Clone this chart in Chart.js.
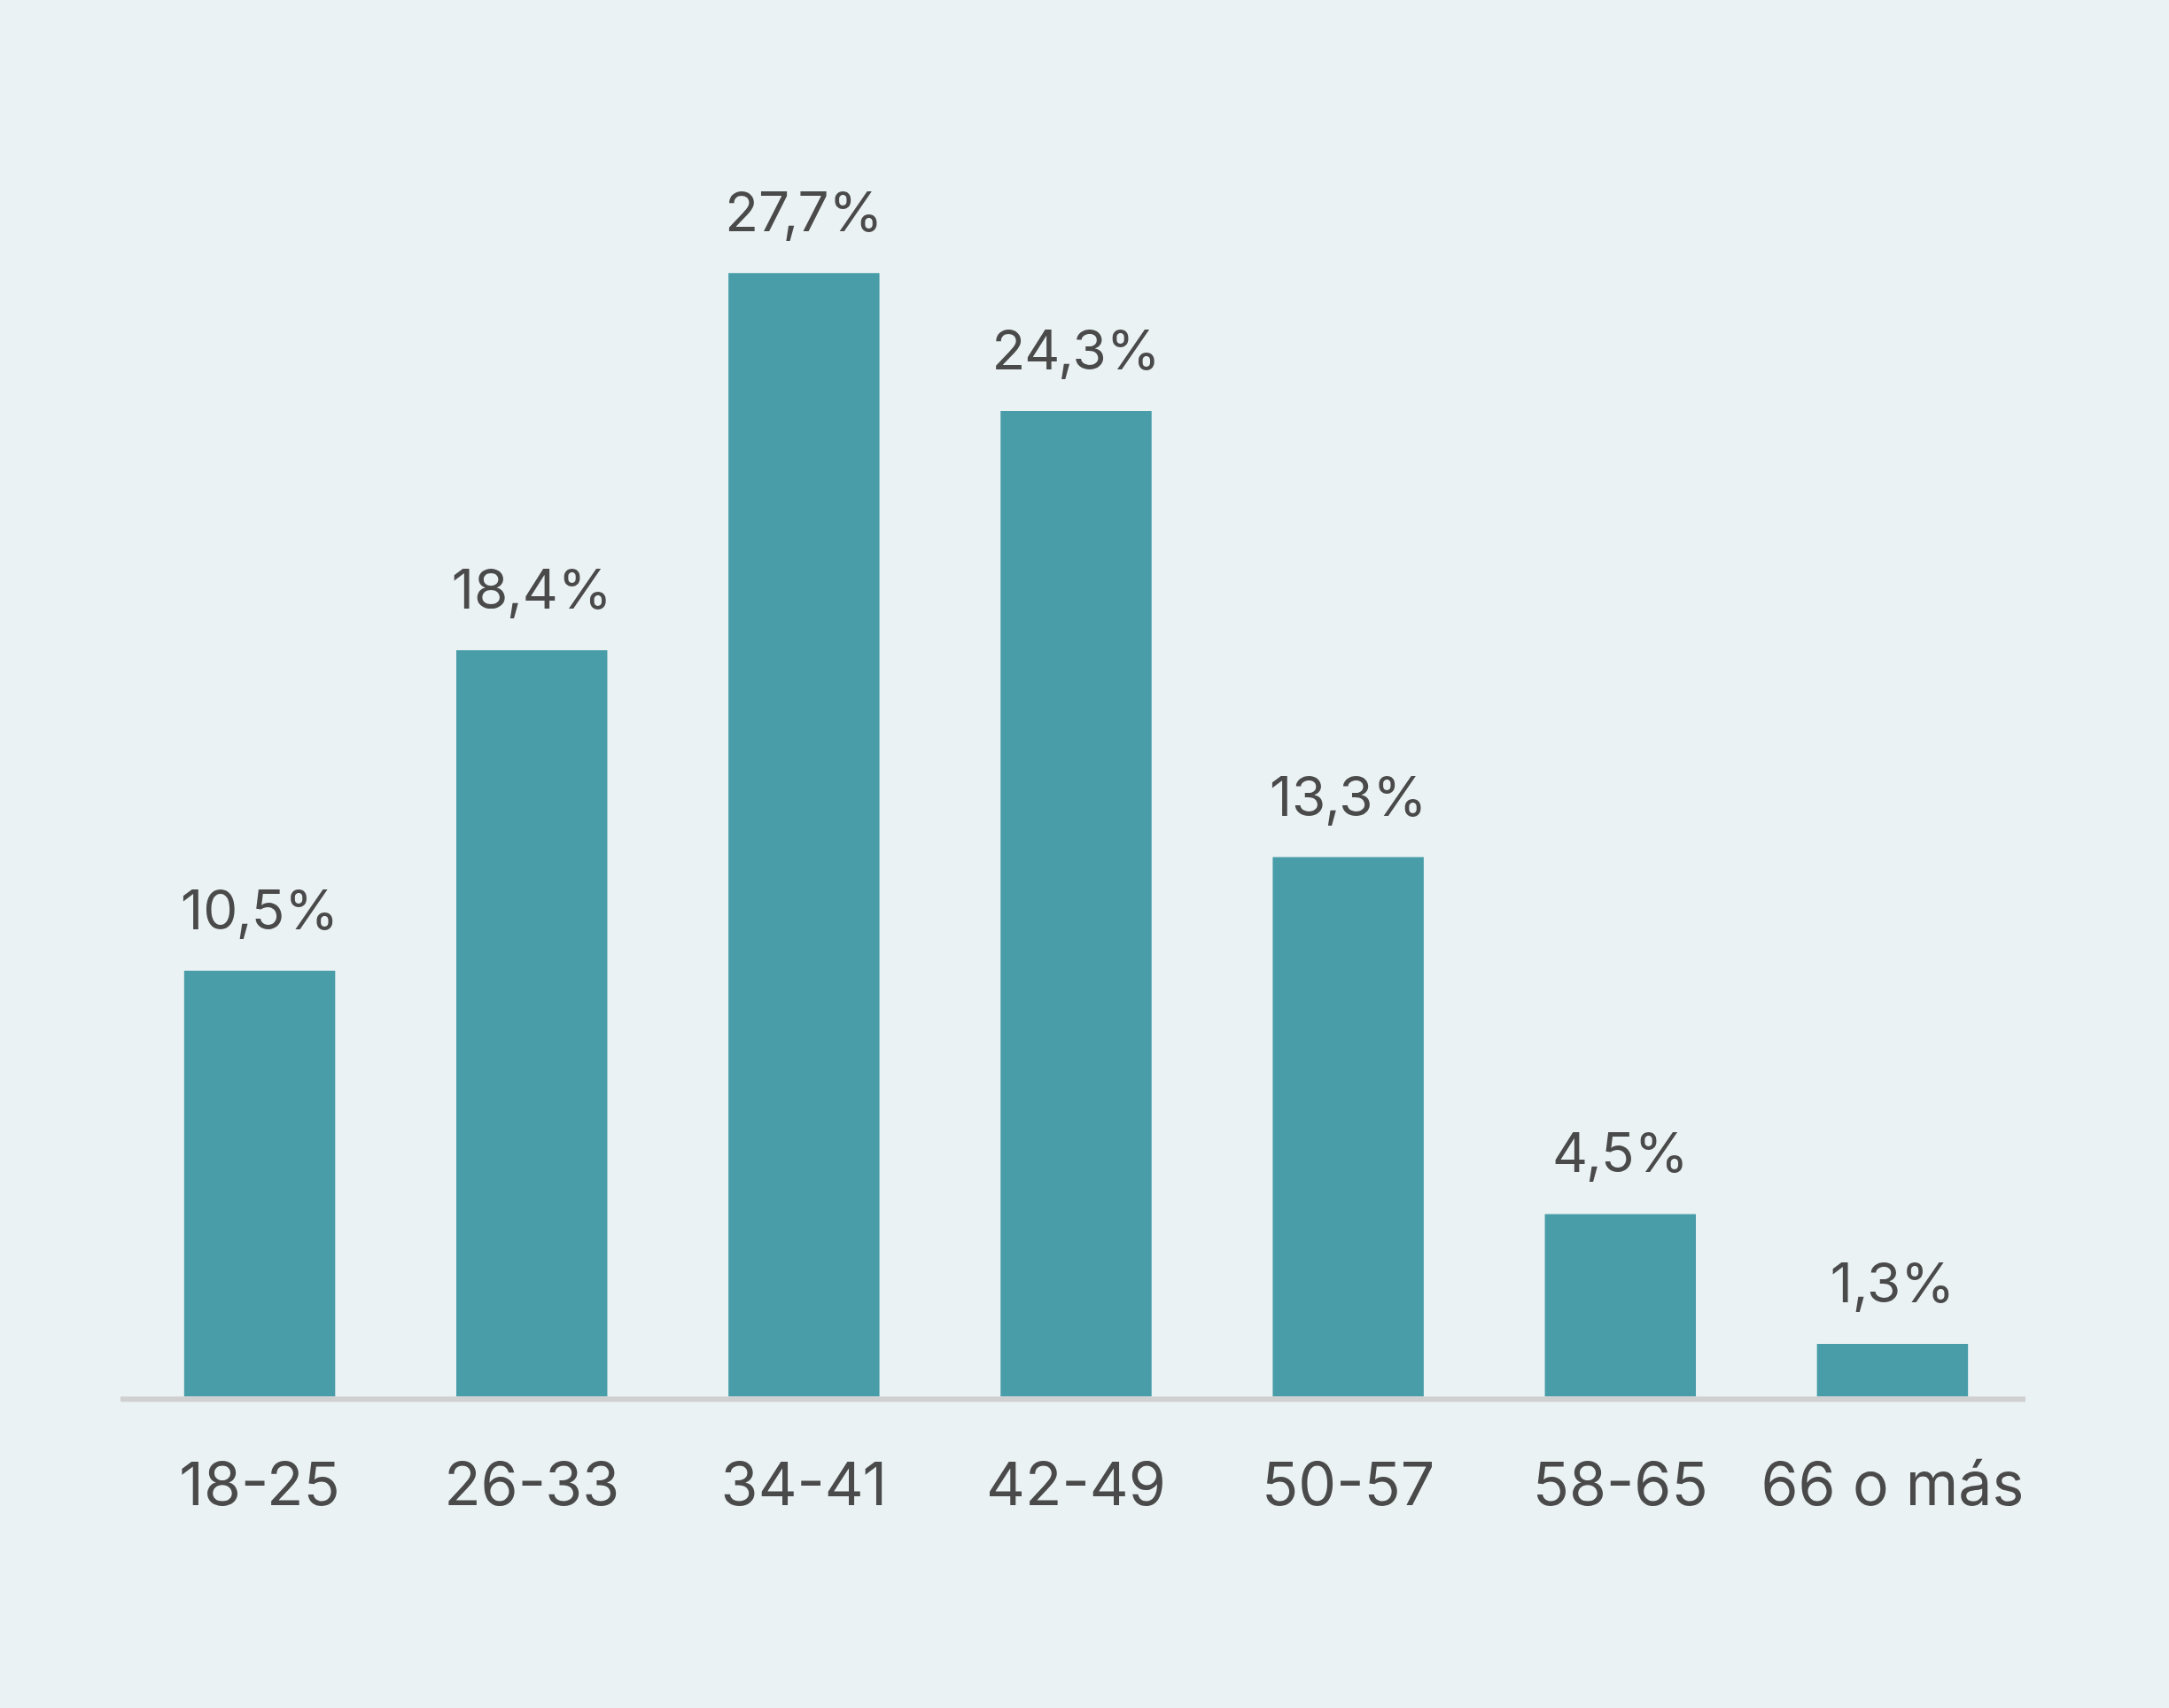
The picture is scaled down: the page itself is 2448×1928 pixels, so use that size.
<!DOCTYPE html>
<html>
<head>
<meta charset="utf-8">
<script src="https://cdn.jsdelivr.net/npm/chart.js@4.4.1/dist/chart.umd.min.js"></script>
<style>
  html, body { margin: 0; padding: 0; background: #eaf2f4; }
  #wrap { width: 2448px; height: 1928px; position: relative; }
  canvas { display: block; }
</style>
</head>
<body>
<div id="wrap"><canvas id="c" width="2448" height="1928"></canvas></div>
<script>
const categories = ["18-25", "26-33", "34-41", "42-49", "50-57", "58-65", "66 o más"];
const values = [10.5, 18.4, 27.7, 24.3, 13.3, 4.5, 1.3];
const valueLabels = ["10,5%", "18,4%", "27,7%", "24,3%", "13,3%", "4,5%", "1,3%"];

const FONT = "Inter, 'Open Sans', sans-serif";
const TEXT = "#4a4a4a";

const valueLabelPlugin = {
  id: 'valueLabels',
  beforeDatasetsDraw(chart) {
    const ctx = chart.ctx;
    const y0 = chart.scales.y.getPixelForValue(0);
    ctx.save();
    ctx.fillStyle = '#d0d0d0';
    ctx.fillRect(chart.chartArea.left - 3.5, y0, chart.chartArea.right - chart.chartArea.left, 6);
    ctx.restore();
  },
  afterDatasetsDraw(chart) {
    const ctx = chart.ctx;
    const meta = chart.getDatasetMeta(0);
    ctx.save();
    ctx.font = "400 62px " + FONT;
    ctx.fillStyle = TEXT;
    ctx.textAlign = 'center';
    ctx.textBaseline = 'alphabetic';
    meta.data.forEach((bar, i) => {
      ctx.fillText(valueLabels[i], bar.x, bar.y - 47);
    });
    ctx.restore();
  }
};

new Chart(document.getElementById('c'), {
  type: 'bar',
  data: {
    labels: categories,
    datasets: [{
      data: values,
      backgroundColor: '#489da8',
      borderWidth: 0,
      categoryPercentage: 1.0,
      barPercentage: 0.555
    }]
  },
  options: {
    responsive: false,
    animation: false,
    devicePixelRatio: 1,
    layout: { padding: { left: 139.5, right: 158.5, top: 203, bottom: 148 } },
    plugins: { legend: { display: false }, tooltip: { enabled: false } },
    scales: {
      x: {
        grid: { display: false, drawTicks: false },
        border: { display: false },
        ticks: {
          color: TEXT,
          padding: 61,
          maxRotation: 0,
          autoSkip: false,
          font: { family: FONT, size: 68, weight: '400' }
        }
      },
      y: {
        display: false,
        min: 0,
        max: 30
      }
    }
  },
  plugins: [valueLabelPlugin]
});
</script>
</body>
</html>
